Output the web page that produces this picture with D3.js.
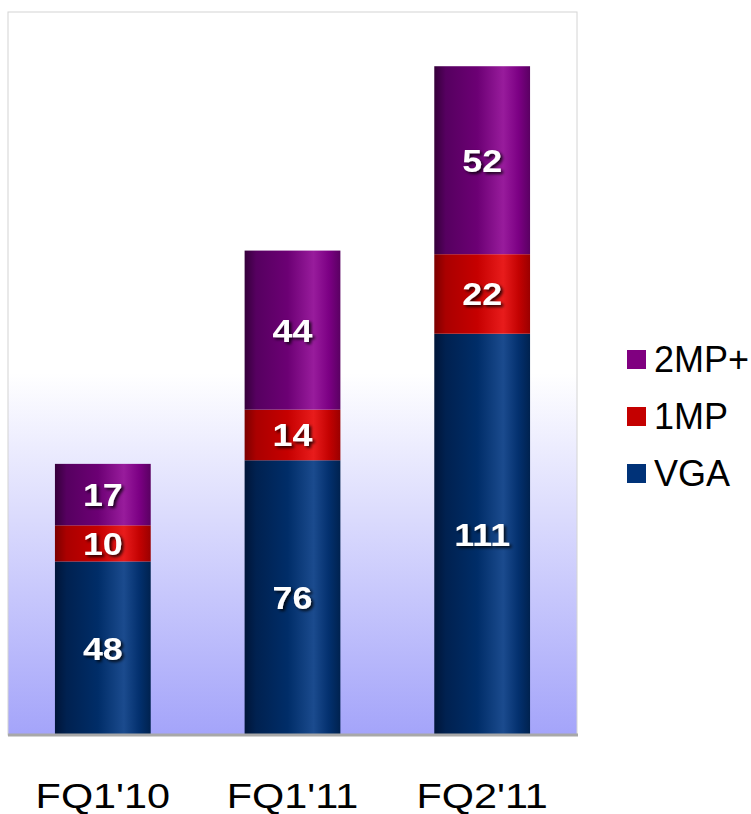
<!DOCTYPE html>
<html lang="en">
<head>
<meta charset="UTF-8">
<script src="https://d3js.org/d3.v7.min.js"></script>
<style>
  html,body{margin:0;padding:0;background:#fff;}
  svg{display:block;font-family:"Liberation Sans",Arial,sans-serif;}
</style>
</head>
<body>
<svg id="chart" width="751" height="814"></svg>
<script>
// data
var quarters = ["FQ1'10", "FQ1'11", "FQ2'11"];
var seriesNames = ["VGA", "1MP", "2MP+"];
var vga = [48, 76, 111];
var mp1 = [10, 14, 22];
var mp2 = [17, 44, 52];

var svg = d3.select("#chart");
var plotL = 8, plotR = 577, plotT = 12, plotB = 735;

var x = d3.scaleBand().domain(quarters).range([plotL, plotR]).paddingInner(0.495).paddingOuter(0.2475);
var y = d3.scaleLinear().domain([0, 200]).range([plotB, plotT]);

var rows = quarters.map(function(q, i){ return {q: q, VGA: vga[i], "1MP": mp1[i], "2MP+": mp2[i]}; });
var stack = d3.stack().keys(seriesNames)(rows);

var defs = svg.append("defs");

// background fade
var bg = defs.append("linearGradient").attr("id", "bg").attr("x1", 0).attr("y1", 0).attr("x2", 0).attr("y2", 1);
bg.append("stop").attr("offset", "0.5").attr("stop-color", "#ffffff");
bg.append("stop").attr("offset", "1").attr("stop-color", "#a4a4fa");

// cylinder shading for each series
var shades = {
  "VGA":  ["#001538", "#002150", "#002d68", "#1b4b8e", "#03306e", "#00224f"],
  "1MP":  ["#7c0000", "#aa0000", "#c60000", "#e81c1c", "#c40202", "#9a0000"],
  "2MP+": ["#35003a", "#560060", "#6c0074", "#981c9c", "#7c0084", "#5a0062"]
};
var offs = [0, 0.12, 0.45, 0.72, 0.88, 1];
seriesNames.forEach(function(k, i){
  var g = defs.append("linearGradient").attr("id", "g" + i).attr("x1", 0).attr("x2", 1).attr("y1", 0).attr("y2", 0);
  offs.forEach(function(o, j){ g.append("stop").attr("offset", o).attr("stop-color", shades[k][j]); });
});
var legendColor = {"VGA": "#003278", "1MP": "#c40000", "2MP+": "#800080"};

var f = defs.append("filter").attr("id", "sh").attr("x", "-20%").attr("y", "-20%").attr("width", "150%").attr("height", "150%");
f.append("feDropShadow").attr("dx", 2).attr("dy", 2).attr("stdDeviation", 1.5).attr("flood-color", "#000").attr("flood-opacity", 0.8);

// plot area
svg.append("rect").attr("x", plotL).attr("y", plotT).attr("width", plotR - plotL).attr("height", plotB - plotT)
  .attr("fill", "url(#bg)").attr("stroke", "#d4d4d4").attr("stroke-width", 1);

// bars
stack.forEach(function(layer, i){
  svg.append("g").selectAll("rect").data(layer).join("rect")
    .attr("x", function(d){ return x(d.data.q); })
    .attr("y", function(d){ return y(d[1]); })
    .attr("width", x.bandwidth())
    .attr("height", function(d){ return y(d[0]) - y(d[1]); })
    .attr("fill", "url(#g" + i + ")");
});

// value labels (source looks a bit stretched sideways)
stack.forEach(function(layer){
  svg.append("g").selectAll("text").data(layer).join("text")
    .attr("transform", function(d){
      return "translate(" + (x(d.data.q) + x.bandwidth() / 2) + "," + ((y(d[0]) + y(d[1])) / 2) + ") scale(1.12,1)";
    })
    .attr("dy", "0.36em")
    .attr("text-anchor", "middle")
    .attr("fill", "#fff").attr("font-weight", "bold").attr("font-size", 32)
    .attr("filter", "url(#sh)")
    .text(function(d){ return d[1] - d[0]; });
});

// baseline
svg.append("line").attr("x1", plotL).attr("x2", plotR + 1).attr("y1", plotB).attr("y2", plotB)
  .attr("stroke", "#a8a8a8").attr("stroke-width", 3);

// category axis
var xAxis = svg.append("g").attr("transform", "translate(0," + plotB + ")")
  .call(d3.axisBottom(x).tickSize(0).tickPadding(0));
xAxis.select(".domain").remove();
xAxis.selectAll("text").attr("y", 73).attr("dy", 0).attr("font-size", 36).attr("fill", "#000")
  .attr("transform", "scale(1.15,1)")
  .attr("font-family", "'Liberation Sans',Arial,sans-serif");

// legend
var legend = svg.append("g").selectAll("g").data(seriesNames.slice().reverse()).join("g")
  .attr("transform", function(d, i){ return "translate(627," + (350 + i * 57) + ")"; });
legend.append("rect").attr("width", 19).attr("height", 19).attr("fill", function(d){ return legendColor[d]; });
legend.append("text").attr("x", 27).attr("y", 9.5).attr("dy", "0.36em").attr("font-size", 36).attr("fill", "#000")
  .text(function(d){ return d; });
</script>
</body>
</html>
